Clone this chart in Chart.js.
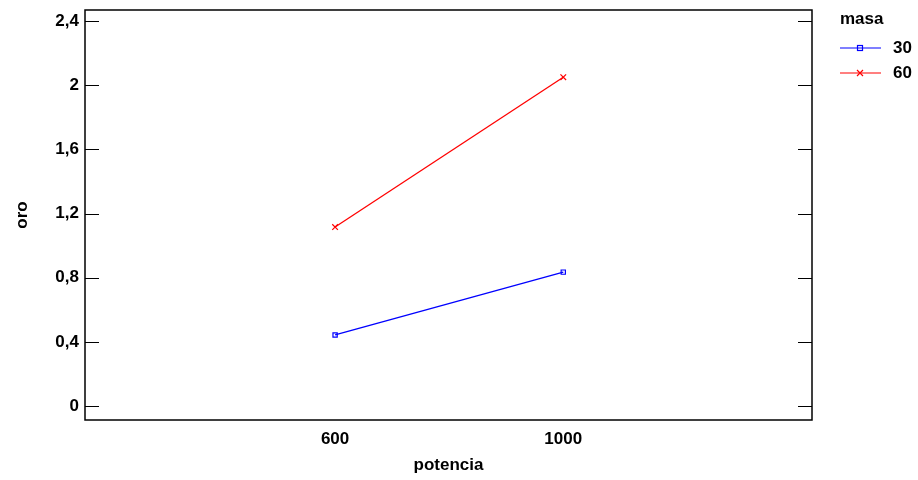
<!DOCTYPE html>
<html>
<head>
<meta charset="utf-8">
<script src="https://cdn.jsdelivr.net/npm/chart.js@4"></script>
<style>
  html, body { margin: 0; padding: 0; background: #fff; }
  #wrap { width: 918px; height: 480px; }
</style>
</head>
<body>
<div id="wrap"><canvas id="chart"></canvas></div>
<script>
const categories = ['600', '1000'];
const seriesNames = ['30', '60'];
const masa30 = [0.443, 0.835];
const masa60 = [1.116, 2.05];
const yTicks = [0, 0.4, 0.8, 1.2, 1.6, 2, 2.4];

const FONT = '"Liberation Sans Narrow", "Liberation Sans", Arial, sans-serif';

// box + inward tick marks, like the original plot frame
const framePlugin = {
    id: 'frame',
    afterDraw(chart) {
        const { ctx, chartArea: a, scales } = chart;
        ctx.save();
        ctx.strokeStyle = '#000';
        ctx.lineWidth = 1.5;
        ctx.strokeRect(a.left, a.top, a.right - a.left, a.bottom - a.top);
        ctx.lineWidth = 1.2;
        yTicks.forEach(v => {
            const y = Math.round(scales.y.getPixelForValue(v)) + 0.5;
            ctx.beginPath();
            ctx.moveTo(a.left, y); ctx.lineTo(a.left + 14, y);
            ctx.moveTo(a.right, y); ctx.lineTo(a.right - 14, y);
            ctx.stroke();
        });
        ctx.restore();
    }
};

// legend on the right with "masa" title
const legendPlugin = {
    id: 'sideLegend',
    afterDraw(chart) {
        const { ctx } = chart;
        ctx.save();
        ctx.font = 'bold 17px ' + FONT;
        ctx.fillStyle = '#000';
        ctx.textBaseline = 'middle';
        ctx.textAlign = 'left';
        ctx.fillText('masa', 840, 19);
        chart.data.datasets.forEach((ds, i) => {
            const y = 48 + i * 25;
            ctx.strokeStyle = ds.borderColor;
            ctx.lineWidth = 1.2;
            ctx.beginPath();
            ctx.moveTo(840, y); ctx.lineTo(881, y);
            ctx.stroke();
            const cx = 860;
            ctx.beginPath();
            if (ds.pointStyle === 'rect') {
                ctx.strokeRect(cx - 2.5, y - 2.5, 5, 5);
            } else {
                ctx.moveTo(cx - 3, y - 3); ctx.lineTo(cx + 3, y + 3);
                ctx.moveTo(cx + 3, y - 3); ctx.lineTo(cx - 3, y + 3);
                ctx.stroke();
            }
            ctx.fillStyle = '#000';
            ctx.fillText(ds.label, 893, y);
        });
        ctx.restore();
    }
};

new Chart(document.getElementById('chart'), {
    type: 'line',
    data: {
        datasets: [
            {
                label: seriesNames[0],
                data: masa30.map((v, i) => ({ x: i + 1, y: v })),
                borderColor: '#0000ff',
                backgroundColor: 'transparent',
                borderWidth: 1.3,
                pointStyle: 'rect',
                pointRadius: 3,
                pointBorderWidth: 1.2
            },
            {
                label: seriesNames[1],
                data: masa60.map((v, i) => ({ x: i + 1, y: v })),
                borderColor: '#ff0000',
                backgroundColor: 'transparent',
                borderWidth: 1.3,
                pointStyle: 'crossRot',
                pointRadius: 4,
                pointBorderWidth: 1.2
            }
        ]
    },
    options: {
        responsive: true,
        maintainAspectRatio: false,
        animation: false,
        layout: { padding: { top: 10, right: 106, left: 0, bottom: 0 } },
        plugins: {
            legend: { display: false },
            tooltip: { enabled: false }
        },
        scales: {
            x: {
                type: 'linear',
                min: -0.096,
                max: 3.09,
                grid: { display: false, drawTicks: false },
                border: { display: false },
                afterBuildTicks: s => { s.ticks = categories.map((c, i) => ({ value: i + 1 })); },
                afterFit: s => { s.height = 60; s.paddingLeft = 0; s.paddingRight = 0; },
                ticks: {
                    color: '#000',
                    font: { family: FONT, size: 17, weight: 'bold' },
                    padding: 9,
                    callback: v => categories[v - 1]
                },
                title: {
                    display: true,
                    text: 'potencia',
                    color: '#000',
                    font: { family: FONT, size: 17, weight: 'bold' },
                    padding: { top: 4, bottom: 4 }
                }
            },
            y: {
                min: -0.087,
                max: 2.469,
                grid: { display: false, drawTicks: false },
                border: { display: false },
                afterBuildTicks: s => { s.ticks = yTicks.map(v => ({ value: v })); },
                afterFit: s => { s.width = 85; s.paddingTop = 0; s.paddingBottom = 0; },
                ticks: {
                    color: '#000',
                    font: { family: FONT, size: 17, weight: 'bold' },
                    padding: 6,
                    callback: v => String(Math.round(v * 10) / 10).replace('.', ',')
                },
                title: {
                    display: true,
                    text: 'oro',
                    color: '#000',
                    font: { family: FONT, size: 17, weight: 'bold' },
                    padding: { top: 12, bottom: 0 }
                }
            }
        }
    },
    plugins: [framePlugin, legendPlugin]
});
</script>
</body>
</html>
